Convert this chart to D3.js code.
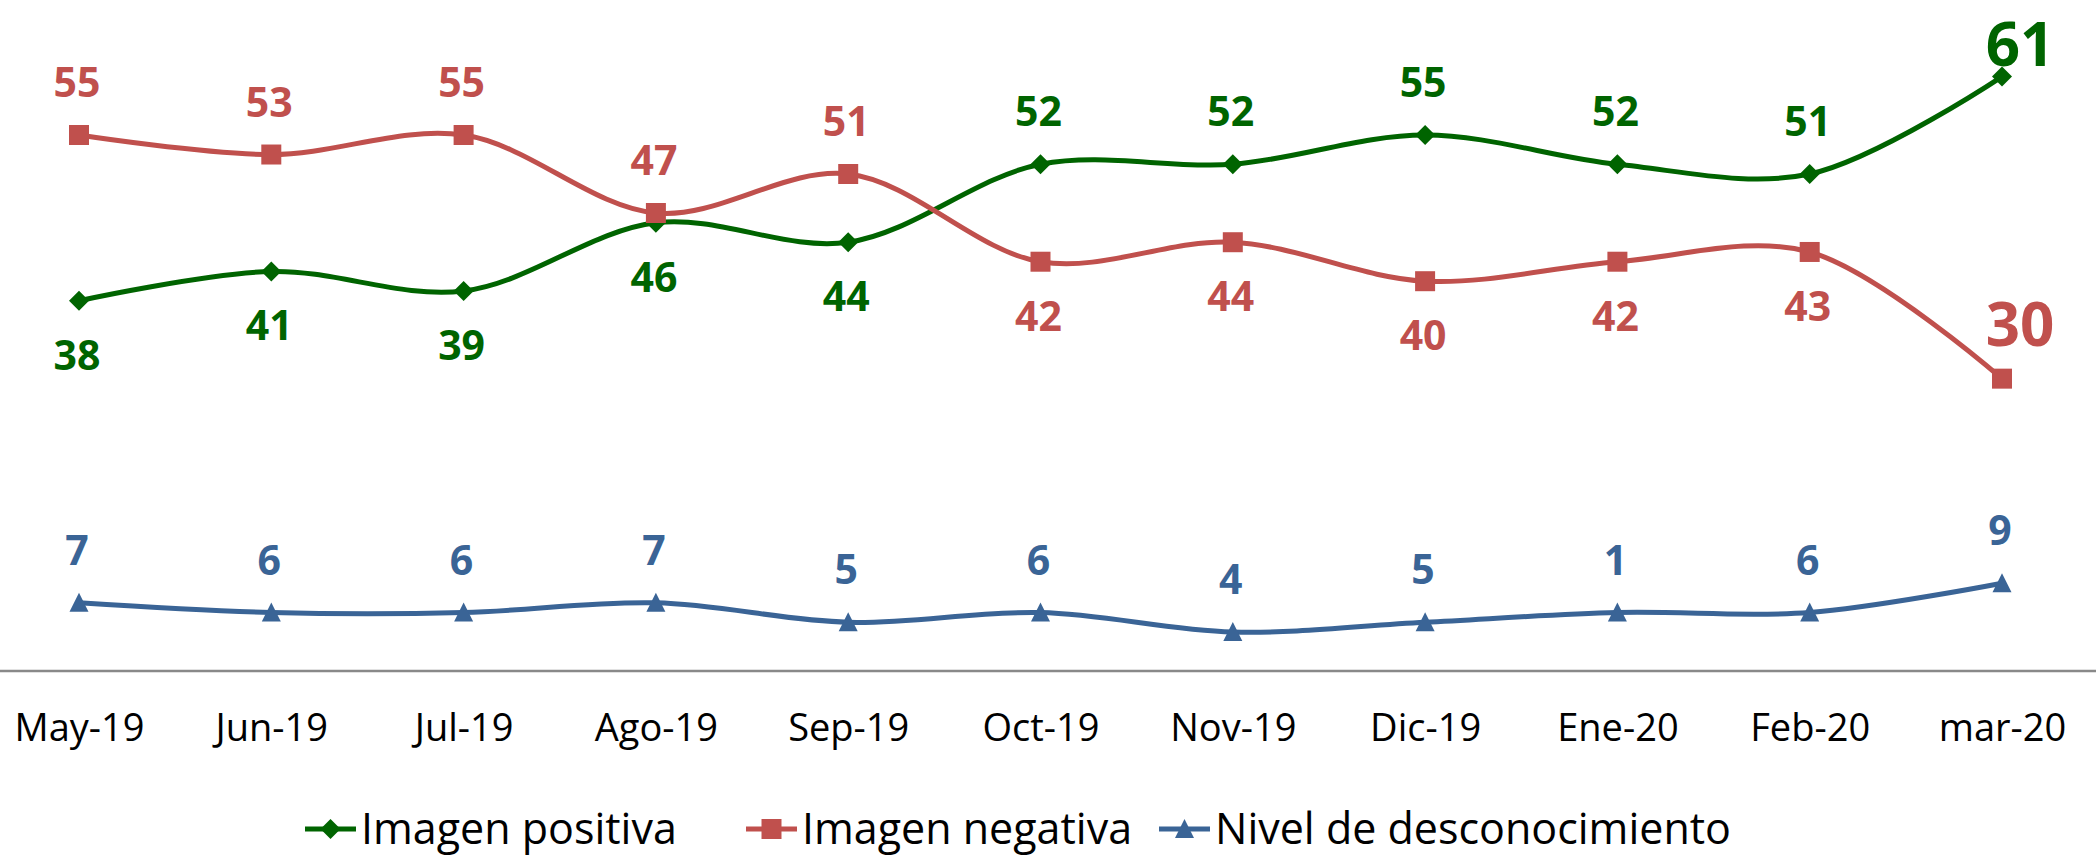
<!DOCTYPE html>
<html>
<head>
<meta charset="utf-8">
<script src="https://cdn.jsdelivr.net/npm/d3@7"></script>
<style>
  html, body { margin: 0; padding: 0; background: #fff; }
  svg { display: block; font-family: "Open Sans", "Noto Sans", sans-serif; }
</style>
</head>
<body>
<div id="chart"></div>
<script>
// datos
const meses = ["May-19", "Jun-19", "Jul-19", "Ago-19", "Sep-19", "Oct-19", "Nov-19", "Dic-19", "Ene-20", "Feb-20", "mar-20"];
const positiva = [38, 41, 39, 46, 44, 52, 52, 55, 52, 51, 61];
const negativa = [55, 53, 55, 47, 51, 42, 44, 40, 42, 43, 30];
const desconocimiento = [7, 6, 6, 7, 5, 6, 4, 5, 6, 6, 9];
const desconocimientoEtiquetas = ["7", "6", "6", "7", "5", "6", "4", "5", "1", "6", "9"];

let width = 2096;
let height = 856;

let verde = "#006400",
    rojo = "#c0504d",
    azul = "#3a6496";

let series = [
    { name: "Imagen positiva", values: positiva, labels: positiva.map(String), color: verde, marker: "diamond", other: negativa },
    { name: "Imagen negativa", values: negativa, labels: negativa.map(String), color: rojo, marker: "square", other: positiva },
    { name: "Nivel de desconocimiento", values: desconocimiento, labels: desconocimientoEtiquetas, color: azul, marker: "triangle", other: null }
];

let svg = d3.select("#chart").append("svg")
    .attr("width", width)
    .attr("height", height);

svg.append("rect").attr("width", width).attr("height", height).attr("fill", "#fff");

let x = d3.scalePoint()
    .domain(meses)
    .range([79, 2002]);

let y = d3.scaleLinear()
    .domain([0, 60])
    .range([671, 86.3]);

// eje
let xAxis = d3.axisBottom(x).tickSize(0);
let axisG = svg.append("g")
    .attr("transform", "translate(0," + y(0) + ")")
    .call(xAxis);
axisG.select(".domain").remove();
axisG.selectAll("text")
    .attr("y", 70)
    .attr("dy", 0)
    .attr("fill", "#000")
    .style("font-size", "38px")
    .style("font-family", "'Open Sans', sans-serif");

svg.append("line")
    .attr("x1", 0)
    .attr("x2", width)
    .attr("y1", y(0))
    .attr("y2", y(0))
    .attr("stroke", "#898989")
    .attr("stroke-width", 2.5);

let markerPath = (type) => {
    if (type === "square") return "M-10,-10H10V10H-10Z";
    if (type === "diamond") return "M0,-10L10,0L0,10L-10,0Z";
    return "M0,-10L9.5,9H-9.5Z";
};

let line = d3.line()
    .x((d, i) => x(meses[i]))
    .y(d => y(d))
    .curve(d3.curveCatmullRom.alpha(0.5));

series.forEach(s => {
    let g = svg.append("g").attr("class", "serie");

    g.append("path")
        .attr("d", line(s.values))
        .attr("fill", "none")
        .attr("stroke", s.color)
        .attr("stroke-width", 5);

    g.selectAll(".mark")
        .data(s.values)
        .enter()
        .append("path")
        .attr("class", "mark")
        .attr("transform", (d, i) => `translate(${x(meses[i])},${y(d)})`)
        .attr("d", markerPath(s.marker))
        .attr("fill", s.color);

    g.selectAll(".lbl")
        .data(s.values)
        .enter()
        .append("text")
        .attr("class", "lbl")
        .attr("text-anchor", "middle")
        .attr("fill", s.color)
        .attr("font-weight", "bold")
        .each(function (d, i) {
            let last = i === s.values.length - 1;
            let above = !s.other || last || d > s.other[i];
            let t = d3.select(this);
            if (last && s.other) {
                // etiqueta grande del último mes, sin salirse por arriba
                t.attr("x", x(meses[i]) + 18)
                    .attr("y", Math.max(y(d) - 33, 66))
                    .style("font-size", "60px");
            } else {
                t.attr("x", x(meses[i]) - 2)
                    .attr("y", above ? y(d) - 38 : y(d) + 69)
                    .style("font-size", "41px");
            }
            t.text(s.labels[i]);
        });
});

// leyenda
let legendX = [305, 746, 1159];
let legendY = 829;
let legend = svg.append("g").attr("class", "legend");
series.forEach((s, i) => {
    let lg = legend.append("g").attr("transform", `translate(${legendX[i]},${legendY})`);
    lg.append("line")
        .attr("x1", 0).attr("x2", 51)
        .attr("y1", 0).attr("y2", 0)
        .attr("stroke", s.color)
        .attr("stroke-width", 5);
    lg.append("path")
        .attr("transform", "translate(25.5,0)")
        .attr("d", markerPath(s.marker))
        .attr("fill", s.color);
    lg.append("text")
        .attr("x", 56)
        .attr("y", 15)
        .attr("fill", "#000")
        .style("font-size", "43px")
        .text(s.name);
});
</script>
</body>
</html>
